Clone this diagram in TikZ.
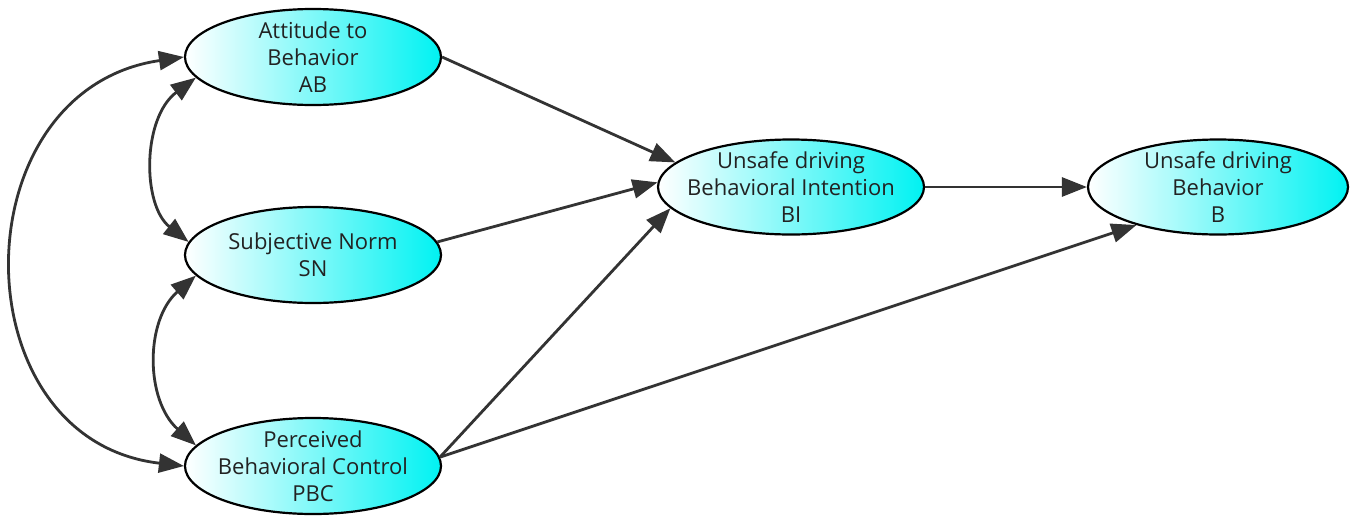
\documentclass[tikz,border=0pt]{standalone}
\usepackage{fontspec}
\setmainfont{Open Sans}
\usetikzlibrary{shapes.geometric,arrows.meta}
\definecolor{linec}{HTML}{333333}
\definecolor{txt}{HTML}{222222}
\definecolor{cy}{HTML}{00F2F2}
\tikzset{
  latent/.style={ellipse, draw=black, line width=2.2pt, left color=white, right color=cy,
    minimum width=256pt, minimum height=96pt, inner sep=-40pt, align=center,
    text=txt, font=\fontsize{22pt}{27pt}\selectfont},
  conn/.style={draw=linec, line width=2.8pt, -{Triangle[length=25pt,width=19pt]}},
  dconn/.style={draw=linec, line width=2.8pt, {Triangle[length=25pt,width=19pt]}-{Triangle[length=25pt,width=19pt]}}
}
\begin{document}
\begin{tikzpicture}[x=1pt,y=-1pt]
\useasboundingbox (0,0) rectangle (1354,517);
\node[latent] (AB) at (313,57) {Attitude to\\Behavior\\AB};
\node[latent] (SN) at (313,255) {Subjective Norm\\SN};
\node[latent] (PBC) at (313,466) {Perceived\\Behavioral Control\\PBC};
\node[latent, minimum width=266pt, minimum height=95pt] (BI) at (791,187) {Unsafe driving\\Behavioral Intention\\BI};
\node[latent, minimum width=260pt, minimum height=95pt] (B) at (1218,187) {Unsafe driving\\Behavior\\B};

\draw[conn] (AB.east) -- (BI.168);
\draw[conn] (SN.6) -- (BI.178);
\draw[conn] (PBC.4) -- (BI.190);
\draw[conn] (PBC.4) -- (B.205);
\draw[conn] (BI.east) -- (B.west);

\draw[dconn] (AB.190) .. controls (142,118) and (142,205) .. (SN.174);
\draw[dconn] (SN.190) .. controls (145,320) and (145,400) .. (PBC.170);
\draw[dconn] (AB.west) .. controls (-42,90) and (-42,440) .. (PBC.west);
\end{tikzpicture}
\end{document}
